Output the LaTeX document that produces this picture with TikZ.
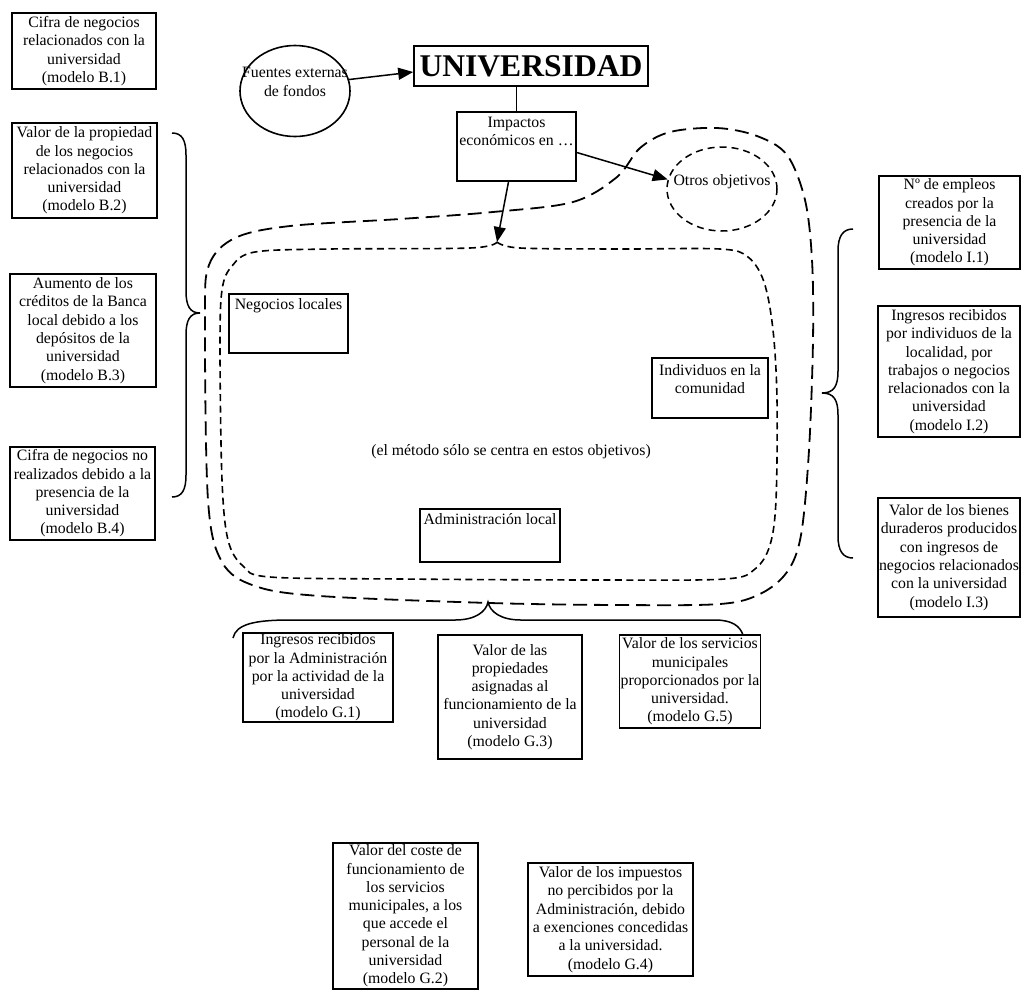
\documentclass[tikz,border=0pt]{standalone}
\usepackage{fontspec}
\setmainfont{Liberation Serif}
\usetikzlibrary{positioning, arrows.meta, shapes.geometric}
\newcommand{\boxfont}{\fontsize{15.8}{18.3}\selectfont}

\begin{document}
\begin{tikzpicture}[x=1pt, y=-1pt,
    measure/.style={
      draw,
      line width=1.6pt,
      align=center,
      inner sep=1pt,
      font=\boxfont
    },
    target/.style={draw, line width=1.6pt, inner sep=0pt},
    tag/.style={align=center, inner sep=0pt, font=\boxfont},
    goal/.style={draw, ellipse, line width=1.6pt, inner sep=0pt},
    flow/.style={line width=1.5pt, -{Triangle[length=15pt,width=12pt]}},
    brace/.style={line width=1.5pt},
    reachline/.style={line width=1.8pt, dash pattern=on 14pt off 7pt},
    focusline/.style={line width=1.6pt, dash pattern=on 7pt off 4.5pt}
  ]
  \useasboundingbox (0,0) rectangle (1022,989);

  % centre of the scheme
  \node[draw, line width=1.6pt, minimum width=234pt, minimum height=40pt, inner sep=0pt,
        font=\fontsize{31.6}{36}\selectfont\bfseries] (univ) at (531,66) {UNIVERSIDAD};
  \node[goal, minimum width=110pt, minimum height=91pt] (fuentes) at (295,91) {};
  \node[tag] (fuentestxt) at (295,82) {Fuentes externas\\de fondos};
  \node[target, minimum width=119pt, minimum height=69pt] (imp) at (516.5,146.5) {};
  \node[tag, anchor=north] (imptxt) at (516.5,117) {Impactos\\económicos en …};
  \node[goal, dash pattern=on 7pt off 5pt, line width=1.5pt,
        minimum width=110pt, minimum height=84pt] (otros) at (722,189) {};
  \node[tag] (otrostxt) at (722,182) {Otros objetivos};

  \draw[flow] (fuentes.12) -- ([yshift=-6pt]univ.west);
  \draw[line width=1.5pt] (imp.north) -- (imp.north |- univ.south);
  \draw[flow] ([yshift=-6pt]imp.east) -- (otros.170);

  % areas
  \coordinate (peak) at (497,242);
  \draw[reachline] plot[smooth cycle, tension=0.55] coordinates {
    (205,320) (209,265) (235,238) (290,226) (400,219) (493,212) (573,202)
    (617,177) (640,148) (670,132) (717,128) (757,136) (787,155) (805,200)
    (812,260) (813,340) (809,450) (801,535) (787,572) (760,594) (720,604)
    (620,605) (490,603) (320,596) (255,586) (222,562) (208,500)};
  \draw[focusline] plot[smooth, tension=0.55] coordinates {
    (peak) (520,248) (620,249) (720,249) (748,257) (764,282) (773,330)
    (777,400) (776,500) (770,545) (755,569) (725,579) (600,580) (400,579)
    (270,577) (243,566) (228,540) (222,480) (220,350) (222,290) (232,266)
    (255,252) (330,249) (470,248) (peak)};
  \draw[flow] ([xshift=-8pt]imp.south) -- (peak);

  \node[target, minimum width=119pt, minimum height=59pt] (negocios) at (288.5,323.5) {};
  \node[tag, anchor=north] (negociostxt) at (288.5,298) {Negocios locales};
  \node[target, minimum width=116pt, minimum height=60pt] (individuos) at (710,388) {};
  \node[tag, anchor=north] (individuostxt) at (710,364) {Individuos en la\\comunidad};
  \node[target, minimum width=140pt, minimum height=53pt] (admin) at (490,535.5) {};
  \node[tag, anchor=north] (admintxt) at (490,513) {Administración local};
  \node[tag] (metodo) at (511,452) {(el método sólo se centra en estos objetivos)};

  % negocios
  \node[measure, minimum width=144pt, minimum height=76pt] (bone) at (84,51)
    {Cifra de negocios\\relacionados con la\\universidad\\(modelo B.1)};
  \node[measure, minimum width=145pt, minimum height=95pt] (btwo) at (84.5,170.5)
    {Valor de la propiedad\\de los negocios\\relacionados con la\\universidad\\(modelo B.2)};
  \node[measure, minimum width=146pt, minimum height=113pt] (bthree) at (83,330.5)
    {Aumento de los\\créditos de la Banca\\local debido a los\\depósitos de la\\universidad\\(modelo B.3)};
  \node[measure, minimum width=145pt, minimum height=93pt] (bfour) at (82.5,493.5)
    {Cifra de negocios no\\realizados debido a la\\presencia de la\\universidad\\(modelo B.4)};
  \draw[brace] (172,133) .. controls (182,133) and (186,140) .. (186,155) -- (186,291)
    .. controls (186,306) and (190,313) .. (200,313)
    .. controls (190,313) and (186,320) .. (186,335) -- (186,475)
    .. controls (186,490) and (182,497) .. (172,497);

  % individuos
  \node[measure, minimum width=141pt, minimum height=93pt] (ione) at (949.5,222.5)
    {Nº de empleos\\creados por la\\presencia de la\\universidad\\(modelo I.1)};
  \node[measure, minimum width=142pt, minimum height=131pt] (itwo) at (949,371.5)
    {Ingresos recibidos\\por individuos de la\\localidad, por\\trabajos o negocios\\relacionados con la\\universidad\\(modelo I.2)};
  \node[measure, minimum width=142pt, minimum height=119pt] (ithree) at (949,557.5)
    {Valor de los bienes\\duraderos producidos\\con ingresos de\\negocios relacionados\\con la universidad\\(modelo I.3)};
  \draw[brace] (853,229) .. controls (843,229) and (838,236) .. (838,251) -- (838,371)
    .. controls (838,386) and (834,393) .. (822,393)
    .. controls (834,393) and (838,400) .. (838,415) -- (838,536)
    .. controls (838,551) and (843,558) .. (853,558);

  % administracion
  \node[measure, minimum width=150pt, minimum height=85pt] (gone) at (318,677.5)
    {Ingresos recibidos\\por la Administración\\por la actividad de la\\universidad\\(modelo G.1)};
  \node[measure, minimum width=144pt, minimum height=124pt] (gthree) at (510,697)
    {Valor de las\\propiedades\\asignadas al\\funcionamiento de la\\universidad\\(modelo G.3)};
  \node[measure, minimum width=138pt, minimum height=93pt] (gfive) at (690,681.5)
    {Valor de los servicios\\municipales\\proporcionados por la\\universidad.\\(modelo G.5)};
  \draw[brace] (233,638) .. controls (236,624) and (255,620) .. (290,620) -- (455,620)
    .. controls (475,620) and (486,612) .. (488,602)
    .. controls (490,612) and (501,620) .. (521,620) -- (715,620)
    .. controls (732,620) and (740,626) .. (743,635);
  \node[measure, minimum width=145pt, minimum height=146pt] (gtwo) at (405.5,916)
    {Valor del coste de\\funcionamiento de\\los servicios\\municipales, a los\\que accede el\\personal de la\\universidad\\(modelo G.2)};
  \node[measure, minimum width=165pt, minimum height=113pt] (gfour) at (610.5,919.5)
    {Valor de los impuestos\\no percibidos por la\\Administración, debido\\a exenciones concedidas\\a la universidad.\\(modelo G.4)};
\end{tikzpicture}
\end{document}
